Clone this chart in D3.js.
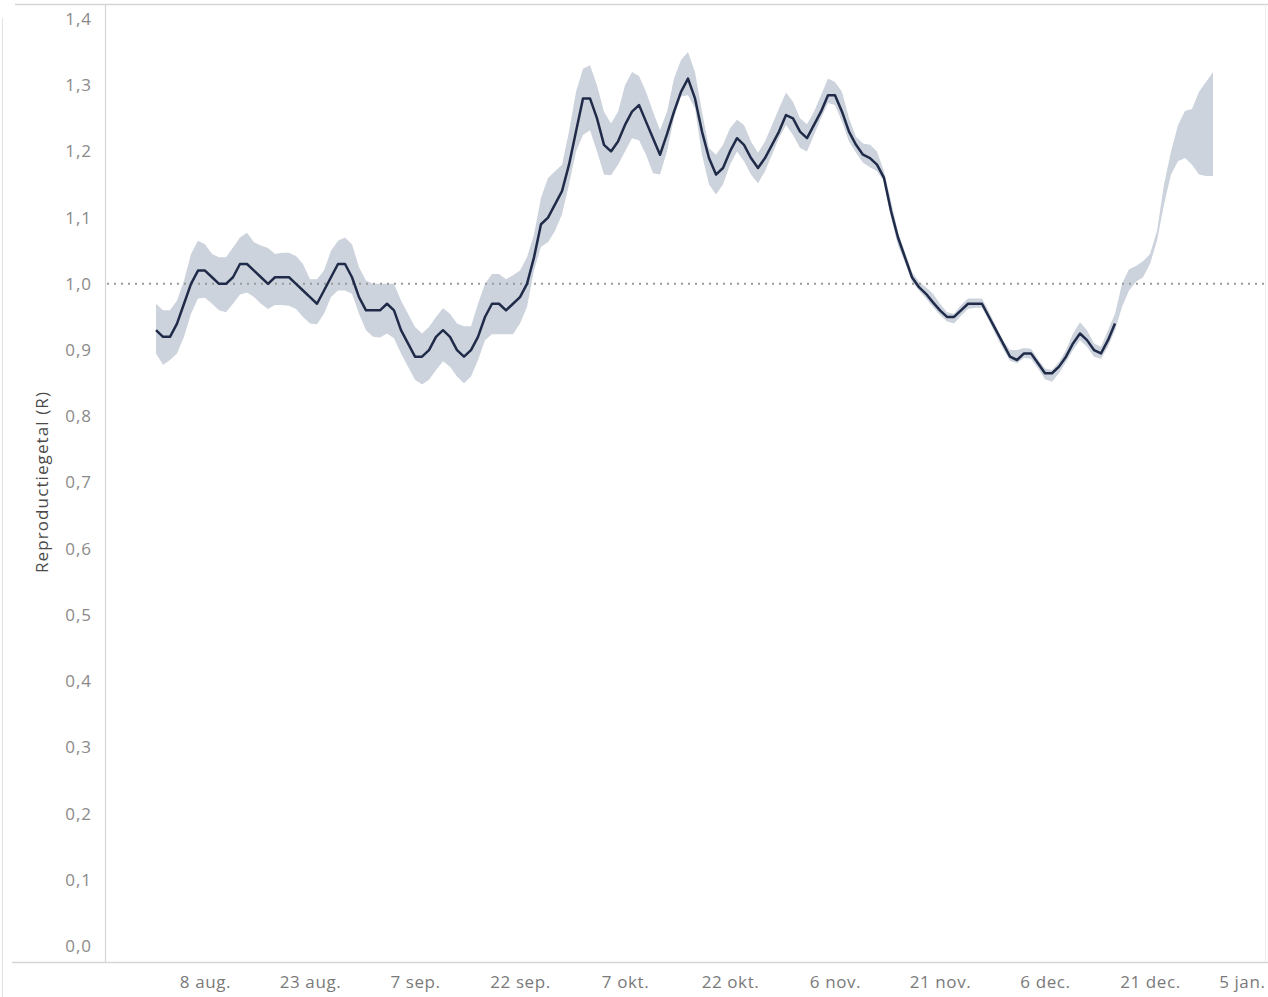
<!DOCTYPE html>
<html>
<head>
<meta charset="utf-8">
<script src="https://cdn.jsdelivr.net/npm/d3@7"></script>
<style>
  body { margin: 0; background: #fff; }
  svg text { font-family: "Open Sans", Lato, sans-serif; }
</style>
</head>
<body>
<svg id="chart" width="1268" height="997"></svg>
<script>
// Reproductiegetal, dagelijks vanaf 1 aug.
const startDate = new Date(2020, 7, 1);

// R-waarde (lijn), 1 aug. t/m 16 dec.
const rValues = [
  0.93, 0.92, 0.92, 0.94, 0.97, 1.00, 1.02, 1.02, 1.01, 1.00,
  1.00, 1.01, 1.03, 1.03, 1.02, 1.01, 1.00, 1.01, 1.01, 1.01,
  1.00, 0.99, 0.98, 0.97, 0.99, 1.01, 1.03, 1.03, 1.01, 0.98,
  0.96, 0.96, 0.96, 0.97, 0.96, 0.93, 0.91, 0.89, 0.89, 0.90,
  0.92, 0.93, 0.92, 0.90, 0.89, 0.90, 0.92, 0.95, 0.97, 0.97,
  0.96, 0.97, 0.98, 1.00, 1.04, 1.09, 1.10, 1.12, 1.14, 1.18,
  1.23, 1.28, 1.28, 1.25, 1.21, 1.20, 1.215, 1.24, 1.26, 1.27,
  1.245, 1.22, 1.195, 1.226, 1.26, 1.29, 1.31, 1.28, 1.23, 1.19,
  1.165, 1.175, 1.20, 1.22, 1.21, 1.19, 1.175, 1.19, 1.21, 1.23,
  1.255, 1.25, 1.23, 1.22, 1.24, 1.26, 1.285, 1.285, 1.26, 1.23,
  1.21, 1.195, 1.19, 1.18, 1.16, 1.11, 1.07, 1.04, 1.01, 0.995,
  0.985, 0.972, 0.96, 0.95, 0.95, 0.96, 0.97, 0.97, 0.97, 0.95,
  0.93, 0.91, 0.89, 0.885, 0.895, 0.895, 0.88, 0.865, 0.865, 0.875,
  0.89, 0.91, 0.925, 0.915, 0.90, 0.895, 0.915, 0.94
];

// Bovengrens betrouwbaarheidsinterval, 1 aug. t/m 30 dec.
const upperValues = [
  0.97, 0.96, 0.96, 0.975, 1.005, 1.045, 1.065, 1.06, 1.045, 1.04,
  1.04, 1.055, 1.07, 1.077, 1.063, 1.058, 1.054, 1.045, 1.047, 1.047,
  1.042, 1.03, 1.007, 1.007, 1.02, 1.05, 1.065, 1.07, 1.06, 1.025,
  1.005, 1.00, 1.00, 1.00, 1.00, 0.975, 0.955, 0.935, 0.925, 0.935,
  0.95, 0.963, 0.955, 0.94, 0.936, 0.936, 0.97, 1.00, 1.015, 1.015,
  1.007, 1.013, 1.02, 1.04, 1.075, 1.13, 1.16, 1.17, 1.18, 1.23,
  1.29, 1.325, 1.33, 1.30, 1.26, 1.242, 1.26, 1.30, 1.32, 1.314,
  1.29, 1.26, 1.232, 1.26, 1.31, 1.338, 1.35, 1.32, 1.26, 1.205,
  1.195, 1.21, 1.235, 1.248, 1.24, 1.215, 1.198, 1.215, 1.24, 1.265,
  1.289, 1.275, 1.25, 1.241, 1.26, 1.285, 1.31, 1.305, 1.29, 1.25,
  1.222, 1.212, 1.21, 1.20, 1.17, 1.125, 1.078, 1.048, 1.018, 1.003,
  0.995, 0.985, 0.97, 0.957, 0.955, 0.968, 0.978, 0.978, 0.978, 0.958,
  0.936, 0.915, 0.90, 0.90, 0.903, 0.902, 0.886, 0.872, 0.87, 0.882,
  0.90, 0.925, 0.942, 0.93, 0.91, 0.905, 0.93, 0.955, 1.00, 1.022,
  1.027, 1.034, 1.045, 1.08, 1.15, 1.20, 1.24, 1.261, 1.264, 1.29,
  1.305, 1.32
];

// Ondergrens betrouwbaarheidsinterval, 1 aug. t/m 30 dec.
const lowerValues = [
  0.895, 0.878, 0.885, 0.895, 0.92, 0.955, 0.978, 0.979, 0.97, 0.96,
  0.957, 0.97, 0.984, 0.987, 0.98, 0.97, 0.962, 0.968, 0.968, 0.967,
  0.962, 0.95, 0.94, 0.939, 0.955, 0.98, 0.99, 0.99, 0.985, 0.955,
  0.93, 0.92, 0.919, 0.925, 0.918, 0.895, 0.875, 0.855, 0.848, 0.855,
  0.87, 0.883, 0.875, 0.86, 0.85, 0.86, 0.885, 0.915, 0.924, 0.924,
  0.924, 0.924, 0.94, 0.965, 1.02, 1.056, 1.063, 1.08, 1.105, 1.15,
  1.20, 1.225, 1.232, 1.20, 1.165, 1.164, 1.18, 1.20, 1.22, 1.217,
  1.195, 1.167, 1.165, 1.20, 1.25, 1.283, 1.285, 1.265, 1.195, 1.15,
  1.135, 1.15, 1.18, 1.20, 1.185, 1.165, 1.152, 1.17, 1.195, 1.22,
  1.24, 1.225, 1.205, 1.20, 1.225, 1.25, 1.273, 1.27, 1.245, 1.215,
  1.198, 1.183, 1.176, 1.17, 1.155, 1.10, 1.058, 1.032, 1.003, 0.99,
  0.978, 0.965, 0.953, 0.943, 0.94, 0.952, 0.962, 0.964, 0.964, 0.944,
  0.922, 0.902, 0.884, 0.88, 0.888, 0.887, 0.872, 0.856, 0.852, 0.865,
  0.882, 0.90, 0.915, 0.905, 0.89, 0.887, 0.905, 0.93, 0.965, 0.99,
  1.003, 1.01, 1.03, 1.065, 1.12, 1.165, 1.185, 1.19, 1.18, 1.165,
  1.163, 1.163
];

// As-labels
const xTickDates = [
  new Date(2020, 7, 8), new Date(2020, 7, 23), new Date(2020, 8, 7),
  new Date(2020, 8, 22), new Date(2020, 9, 7), new Date(2020, 9, 22),
  new Date(2020, 10, 6), new Date(2020, 10, 21), new Date(2020, 11, 6),
  new Date(2020, 11, 21), new Date(2021, 0, 5)
];
const xTickLabels = ["8 aug.", "23 aug.", "7 sep.", "22 sep.", "7 okt.", "22 okt.",
  "6 nov.", "21 nov.", "6 dec.", "21 dec.", "5 jan."];
const yTicks = [0, 0.1, 0.2, 0.3, 0.4, 0.5, 0.6, 0.7, 0.8, 0.9, 1.0, 1.1, 1.2, 1.3, 1.4];
const referenceR = 1.0;

const width = 1268, height = 997;
const svg = d3.select("#chart");

const xScale = d3.scaleTime()
    .domain([new Date(2020, 6, 25), new Date(2021, 0, 7)])
    .range([107, 1269]);

const yScale = d3.scaleLinear()
    .domain([0, 1.4])
    .range([946, 19]);

const dayOf = i => d3.timeDay.offset(startDate, i);

const bandData = upperValues.map((u, i) => ({ date: dayOf(i), upper: u, lower: lowerValues[i] }));
const lineData = rValues.map((v, i) => ({ date: dayOf(i), value: v }));

// frame lines
const frameColor = "#d6d6d6";
svg.append("line").attr("x1", 15).attr("x2", width).attr("y1", 4.5).attr("y2", 4.5)
    .attr("stroke", frameColor).attr("stroke-width", 1.5);
svg.append("line").attr("x1", 12).attr("x2", width).attr("y1", 962.5).attr("y2", 962.5)
    .attr("stroke", frameColor).attr("stroke-width", 1.5);
svg.append("line").attr("x1", 105.5).attr("x2", 105.5).attr("y1", 4).attr("y2", 962)
    .attr("stroke", frameColor).attr("stroke-width", 1.2);
svg.append("line").attr("x1", 1265.5).attr("x2", 1265.5).attr("y1", 4).attr("y2", 962)
    .attr("stroke", "#ececec").attr("stroke-width", 1);
svg.append("line").attr("x1", 2.5).attr("x2", 2.5).attr("y1", 18).attr("y2", 997)
    .attr("stroke", "#e2e2e2").attr("stroke-width", 1);

// confidence band
const area = d3.area()
    .x(d => xScale(d.date))
    .y0(d => yScale(d.lower))
    .y1(d => yScale(d.upper));

svg.append("path")
    .datum(bandData)
    .attr("d", area)
    .attr("fill", "#cdd3dd");

// reference line at R = 1
svg.append("line")
    .attr("x1", 107).attr("x2", width)
    .attr("y1", yScale(referenceR)).attr("y2", yScale(referenceR))
    .attr("stroke", "#9a9a9a")
    .attr("stroke-width", 2)
    .attr("stroke-dasharray", "2,5");

// R line
const line = d3.line()
    .x(d => xScale(d.date))
    .y(d => yScale(d.value));

svg.append("path")
    .datum(lineData)
    .attr("d", line)
    .attr("fill", "none")
    .attr("stroke", "#1f2b48")
    .attr("stroke-width", 2.5)
    .attr("stroke-linejoin", "round");

// y axis
const yAxis = d3.axisLeft(yScale)
    .tickValues(yTicks)
    .tickSize(0)
    .tickPadding(0)
    .tickFormat(d => d3.format(".1f")(d).replace(".", ","));

svg.append("g")
    .attr("transform", "translate(92,0)")
    .call(yAxis)
    .call(g => g.select(".domain").remove())
    .selectAll("text")
    .attr("fill", "#8a8a8a")
    .attr("font-size", 17)
    .attr("letter-spacing", 1);

// x axis
const xAxis = d3.axisBottom(xScale)
    .tickValues(xTickDates)
    .tickSize(0)
    .tickPadding(0)
    .tickFormat((d, i) => xTickLabels[i]);

svg.append("g")
    .attr("transform", "translate(0,976)")
    .call(xAxis)
    .call(g => g.select(".domain").remove())
    .selectAll("text")
    .attr("fill", "#7a7a7a")
    .attr("font-size", 17)
    .attr("letter-spacing", 0.6)
    .each(function () {
        // keep the last label inside the frame
        const box = this.getBBox();
        const tx = xScale(d3.select(this).datum());
        if (tx + box.width / 2 > width - 3) {
            d3.select(this).attr("text-anchor", "end").attr("x", width - 3 - tx);
        }
    });

// y title
svg.append("text")
    .attr("transform", "translate(48,482) rotate(-90)")
    .attr("text-anchor", "middle")
    .attr("fill", "#4a4a4a")
    .attr("font-size", 17)
    .attr("letter-spacing", 1.1)
    .text("Reproductiegetal (R)");
</script>
</body>
</html>
